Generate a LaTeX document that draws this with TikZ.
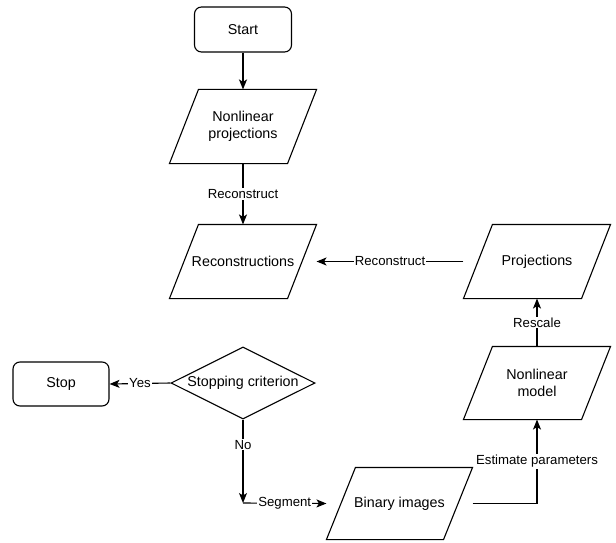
\documentclass[tikz,border=0pt]{standalone}
\usepackage{fontspec}
\setmainfont{Liberation Sans}
\usetikzlibrary{arrows.meta,calc,shapes.geometric}
\begin{document}
\begin{tikzpicture}[x=1pt,y=-1pt,
  every path/.style={line width=1.1pt},
  nodefont/.style={font=\fontsize{14.3}{17}\selectfont},
  term/.style={draw, rounded corners=7pt, nodefont, inner sep=0pt},
  para/.style={nodefont, align=center, minimum width=146pt, minimum height=73pt, inner sep=0pt},
  decis/.style={draw, diamond, aspect=2, nodefont, inner sep=0pt, minimum width=144pt, minimum height=72pt},
  conn/.style={-{Stealth[length=10pt,width=8pt,inset=2.5pt]}},
  lbl/.style={fill=white, inner sep=1pt, font=\fontsize{13.2}{15}\selectfont}]
\useasboundingbox (0,0) rectangle (616,543);
\fill[white] (0,0) rectangle (616,543);

\node[term, minimum width=97pt, minimum height=45pt] (start) at (243,29.5) {Start};
\node[para] (np) at (243,126.5) {Nonlinear\\projections};
\node[para] (rec) at (243,261.5) {Reconstructions};
\node[para] (proj) at (537,261.5) {Projections};
\node[decis] (dia) at (243,383) {Stopping criterion};
\node[term, minimum width=96pt, minimum height=44pt] (stop) at (61,384) {Stop};
\node[para, minimum height=72pt] (nlm) at (537,383) {Nonlinear\\model};
\node[para, minimum width=145pt, minimum height=71pt] (bin) at (399.5,503.5) {Binary images};
\coordinate (corner) at (243,503);

\foreach \n in {np,rec,proj,nlm,bin}
  \draw ($(\n.north west)+(29,0)$) -- (\n.north east) -- ($(\n.south east)-(29,0)$) -- (\n.south west) -- cycle;

\draw[conn, line width=1.8pt] (start) -- (np);
\draw[conn] (np) -- node[lbl] {Reconstruct} (rec);
\draw[conn] (proj.west) -- node[lbl] {Reconstruct} (rec.east);
\draw[conn] (nlm) -- node[lbl] {Rescale} (proj);
\draw[conn] (dia.west) -- node[lbl] {Yes} (stop.east);
\draw[conn] (dia.south) -- node[lbl, pos=0.3] {No} (corner);
\draw[conn] (corner) -- node[lbl] {Segment} (bin.west);
\draw[conn] (bin.east) -| node[lbl, pos=0.75] {Estimate parameters} (nlm.south);
\end{tikzpicture}
\end{document}
